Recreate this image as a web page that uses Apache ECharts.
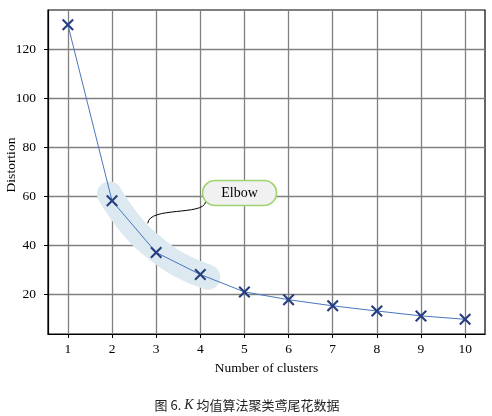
<!DOCTYPE html>
<html>
<head>
<meta charset="utf-8">
<script src="https://cdn.jsdelivr.net/npm/echarts@6/dist/echarts.min.js"></script>
<style>html,body{margin:0;padding:0;background:#fff;}#c{width:492px;height:416px;}</style>
</head>
<body>
<div id="c"></div>
<script>
// ---- data ----
const clusters = [1, 2, 3, 4, 5, 6, 7, 8, 9, 10];
const distortion = [130, 58.1, 37.0, 28.0, 20.9, 17.7, 15.2, 13.1, 11.1, 9.7];
const xTickValues = [1, 2, 3, 4, 5, 6, 7, 8, 9, 10];
const yTickValues = [20, 40, 60, 80, 100, 120];
const xRange = [0.55, 10.45];
const yRange = [3.7, 136];
// highlight band centreline (data coords)
const bandX = [1.94, 2.5, 3.0, 3.5, 4.17];
const bandY = [60.9, 46.7, 38.4, 32.2, 26.9];
// annotation
const annoText = 'Elbow';
const annoLabelPos = [4.89, 61.3];
const annoTipPos = [2.81, 48.9];

const serif = '"Liberation Serif","DejaVu Serif",serif';
const chart = echarts.init(document.getElementById('c'), null, {renderer: 'canvas'});

const xMark = 'path://M0,1.5L1.5,0L6,4.5L10.5,0L12,1.5L7.5,6L12,10.5L10.5,12L6,7.5L1.5,12L0,10.5L4.5,6Z';

chart.setOption({
  animation: false,
  backgroundColor: '#fff',
  title: {
    text: '图 6. {i|K} 均值算法聚类鸢尾花数据',
    left: 242, top: 393, textAlign: 'center',
    textStyle: {
      fontFamily: '"Noto Sans CJK SC", sans-serif', fontSize: 13, fontWeight: 'normal', color: '#222',
      rich: { i: { fontFamily: serif, fontStyle: 'italic', fontSize: 14, color: '#222' } }
    }
  },
  grid: {
    left: 48, right: 7, top: 10, bottom: 82,
    containLabel: false, outerBoundsMode: 'none',
    show: true, borderColor: '#000', borderWidth: 1.2, backgroundColor: 'transparent'
  },
  xAxis: {
    type: 'value', min: xRange[0], max: xRange[1],
    name: 'Number of clusters', nameLocation: 'middle', nameGap: 27, nameMoveOverlap: false,
    nameTextStyle: { fontFamily: serif, fontSize: 13.5, color: '#000' },
    axisLine: { show: true, lineStyle: { color: '#000', width: 1.2 } },
    axisTick: { show: true, length: 4, inside: false, customValues: xTickValues, lineStyle: { color: '#000', width: 1 } },
    axisLabel: { customValues: xTickValues, margin: 8, fontFamily: serif, fontSize: 13.5, color: '#000' },
    splitLine: { show: true, lineStyle: { color: '#808080', width: 1.3 } }
  },
  yAxis: {
    type: 'value', min: yRange[0], max: yRange[1],
    name: 'Distortion', nameLocation: 'middle', nameGap: 30, nameMoveOverlap: false,
    nameTextStyle: { fontFamily: serif, fontSize: 13.5, color: '#000', padding: [0, 0, 0, 14] },
    axisLine: { show: true, lineStyle: { color: '#000', width: 1.2 } },
    axisTick: { show: true, length: 4, inside: false, customValues: yTickValues, lineStyle: { color: '#000', width: 1 } },
    axisLabel: { customValues: yTickValues, margin: 12, fontFamily: serif, fontSize: 13.5, color: '#000' },
    splitLine: { show: true, lineStyle: { color: '#808080', width: 1.3 } }
  },
  series: [
    {
      type: 'line', name: 'band', silent: true, z: 1,
      data: bandX.map((x, i) => [x, bandY[i]]),
      smooth: 0.5, symbol: 'none',
      lineStyle: { color: '#dce9f1', width: 25, cap: 'round', join: 'round' }
    },
    {
      type: 'line', name: 'distortion', z: 3,
      data: clusters.map((k, i) => [k, distortion[i]]),
      symbol: xMark, symbolSize: 12,
      lineStyle: { color: '#4a76be', width: 1 },
      itemStyle: { color: '#273f80', borderWidth: 0 }
    }
  ]
});

// annotation placed through the chart's own coordinate conversion
const lab = chart.convertToPixel({gridIndex: 0}, annoLabelPos);
const tip = chart.convertToPixel({gridIndex: 0}, annoTipPos);
const bw = 74, bh = 25;
const endX = lab[0] - bw / 2 + 3, endY = lab[1] + 9;
chart.setOption({
  graphic: [
    {
      type: 'bezierCurve', z: 10,
      shape: { x1: tip[0], y1: tip[1], cpx1: tip[0] + 1.5, cpy1: tip[1] - 17, cpx2: endX - 2, cpy2: endY + 14, x2: endX, y2: endY },
      style: { stroke: '#000', lineWidth: 1, fill: null }
    },
    {
      type: 'rect', z: 11,
      shape: { x: lab[0] - bw / 2, y: lab[1] - bh / 2, width: bw, height: bh, r: 12.5 },
      style: { fill: '#f1f1f1', stroke: '#9fd36e', lineWidth: 1.6 }
    },
    {
      type: 'text', z: 12,
      x: lab[0], y: lab[1],
      style: { text: annoText, fontFamily: serif, fontSize: 14, fill: '#000', align: 'center', verticalAlign: 'middle' }
    }
  ]
});
</script>
</body>
</html>
